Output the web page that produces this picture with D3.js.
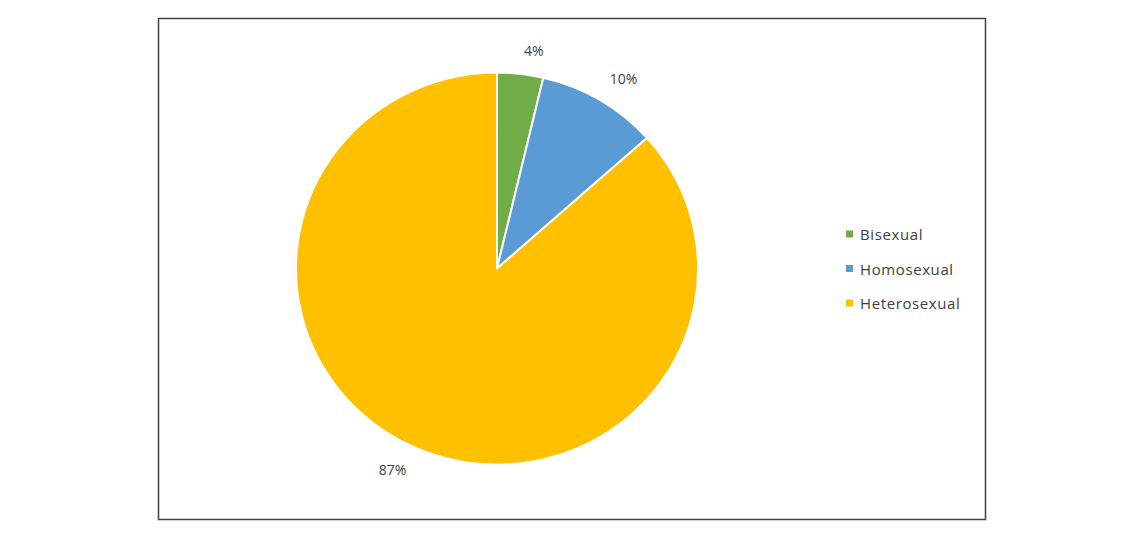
<!DOCTYPE html>
<html>
<head>
<meta charset="utf-8">
<script src="https://cdn.jsdelivr.net/npm/d3@7"></script>
<style>
  html, body { margin: 0; padding: 0; background: #fff; }
  svg { display: block; }
</style>
</head>
<body>
<svg id="chart" width="1140" height="540"></svg>
<script>
const categories = ["Bisexual", "Homosexual", "Heterosexual"];
const values = [3.7, 9.7, 86.6];
const labels = ["4%", "10%", "87%"];
const colors = ["#70AD47", "#5B9BD5", "#FFC000"];

const svg = d3.select("#chart");

// chart border
svg.append("rect")
  .attr("x", 158.5).attr("y", 18.5)
  .attr("width", 827).attr("height", 501)
  .attr("fill", "#fff")
  .attr("stroke", "#404040").attr("stroke-width", 1.5);

const cx = 497, cy = 268.5, R = 201, sy = 196 / 201;
const g = svg.append("g").attr("transform", `translate(${cx},${cy})`);
const slices = g.append("g").attr("transform", `scale(1,${sy})`);

const pie = d3.pie().sort(null).value(d => d)(values);
const arc = d3.arc().innerRadius(0).outerRadius(R);
const anchorArc = d3.arc().innerRadius(R + 14).outerRadius(R + 14);

slices.selectAll("path.slice")
  .data(pie)
  .join("path")
  .attr("class", "slice")
  .attr("d", arc)
  .attr("fill", (d, i) => colors[i])
  .attr("stroke", "#fff")
  .attr("stroke-width", 2)
  .attr("stroke-linejoin", "round");

const font = "'Open Sans', 'DejaVu Sans', sans-serif";
const lbl = g.selectAll("text.lbl")
  .data(pie)
  .join("text")
  .attr("class", "lbl")
  .attr("text-anchor", "middle")
  .attr("dominant-baseline", "central")
  .attr("font-family", font)
  .attr("font-size", 14)
  .attr("fill", "#404040")
  .text((d, i) => labels[i]);

// place each label box just outside the pie along its mid-angle
lbl.each(function(d) {
  const bb = this.getBBox();
  const [ax, ay] = anchorArc.centroid(d);
  const mid = (d.startAngle + d.endAngle) / 2;
  const ox = Math.sign(Math.sin(mid)) * bb.width * 0.6;
  const oy = -Math.sign(Math.cos(mid)) * bb.height / 2;
  d3.select(this).attr("transform", `translate(${ax + ox},${ay * sy + oy})`);
});

// legend
const y = d3.scalePoint().domain(categories).range([234, 303]);
const leg = svg.append("g");
leg.selectAll("rect")
  .data(categories)
  .join("rect")
  .attr("x", 846).attr("y", d => y(d) - 3.5)
  .attr("width", 7).attr("height", 7)
  .attr("fill", (d, i) => colors[i]);
leg.selectAll("text")
  .data(categories)
  .join("text")
  .attr("x", 860).attr("y", d => y(d))
  .attr("dominant-baseline", "central")
  .attr("font-family", font)
  .attr("font-size", 15)
  .attr("letter-spacing", 0.6)
  .attr("fill", "#404040")
  .text(d => d);
</script>
</body>
</html>
